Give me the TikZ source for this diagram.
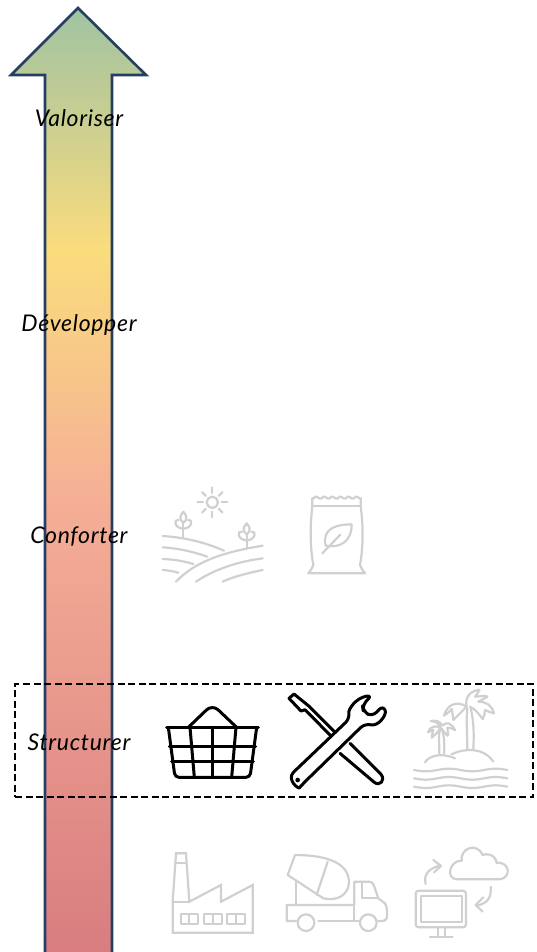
\documentclass[tikz,border=0pt]{standalone}
\usepackage{fontspec}
\setmainfont{Lato}[LetterSpace=3]
\usetikzlibrary{positioning}
\definecolor{arrowblue}{RGB}{38,62,100}
\definecolor{arrowgreen}{RGB}{160,195,162}
\definecolor{arrowyellow}{RGB}{250,220,125}
\definecolor{arrowsalmon}{RGB}{245,175,150}
\definecolor{arrowred}{RGB}{216,124,128}
\definecolor{icongrey}{RGB}{208,208,208}
\pgfdeclareverticalshading{arrowfade}{100bp}{color(0bp)=(arrowred); color(25bp)=(arrowred); color(49.2bp)=(arrowsalmon); color(62.3bp)=(arrowyellow); color(75bp)=(arrowgreen); color(100bp)=(arrowgreen)}
\tikzset{
    levellabel/.style={font=\fontsize{23}{26}\selectfont\itshape, text=black, inner sep=0pt},
    levelbox/.style={rectangle, draw=black, line width=2.3pt, dash pattern=on 7pt off 3.5pt, minimum width=518pt, minimum height=113pt},
    icon/.style={line width=2.2pt, line join=round, line cap=round, draw=icongrey},
    iconon/.style={line width=3pt, line join=round, line cap=round, draw=black},
}

\begin{document}
\begin{tikzpicture}[x=1pt, y=-1pt]

\useasboundingbox (0,0) rectangle (536,952);

\draw[shade, shading=arrowfade, draw=arrowblue, line width=2.6pt, line join=miter]
    (78,8) -- (146,75) -- (112,75) -- (112,960) -- (45,960) -- (45,75) -- (11,75) -- cycle;

\node[levellabel] (valoriser) at (79,118) {Valoriser};
\node[levellabel] (developper) at (79,325) {Développer};
\node[levellabel] (conforter) at (79,537) {Conforter};
\node[levellabel] (structurer) at (79,742) {Structurer};

\node[levelbox] (structurer-box) at (274,740.5) {};

% field
\begin{scope}[shift={(150,480)}, scale=1/3, icon]
\draw (187,67) circle (17);
\foreach \a in {0,90,180,270} {
    \draw (187,67) ++(\a:28) -- ++(\a:17);
}
\foreach \a in {45,135,225,315} {
    \draw (187,67) ++(\a:28) -- ++(\a:15);
}
\draw (38,168) .. controls (100,172) and (160,185) .. (222,212);
\draw (38,202) .. controls (85,205) and (130,215) .. (172,230);
\draw (38,237) .. controls (70,238) and (100,243) .. (130,252);
\draw (38,270) .. controls (55,271) and (70,274) .. (85,278);
\draw (78,305) .. controls (140,240) and (230,215) .. (338,197);
\draw (138,305) .. controls (190,270) and (260,245) .. (338,235);
\draw (218,305) .. controls (250,290) and (290,280) .. (338,270);
\draw (100,172) -- (100,125);
\draw (100,95) .. controls (88,108) and (88,120) .. (100,128) .. controls (112,120) and (112,108) .. (100,95);
\draw (86,120) .. controls (70,115) and (72,145) .. (100,146) .. controls (128,145) and (130,115) .. (114,120);
\draw (290,205) -- (290,160);
\draw (290,130) .. controls (278,143) and (278,155) .. (290,163) .. controls (302,155) and (302,143) .. (290,130);
\draw (276,155) .. controls (260,150) and (262,180) .. (290,181) .. controls (318,180) and (320,150) .. (304,155);
\end{scope}

% bag
\begin{scope}[shift={(150,480)}, scale=1/3, icon]
\draw (487,55) -- (487,78) .. controls (480,140) and (480,200) .. (490,255) .. controls (488,265) and (480,272) .. (475,280)
    -- (645,280) .. controls (640,272) and (632,265) .. (630,255) .. controls (640,200) and (640,140) .. (632,78) -- (632,55);
\draw plot[domain=487:632, samples=60] (\x, {53+3*cos((\x-487)*14.9)});
\draw (487,78) -- (632,78);
\draw (605,133) .. controls (560,133) and (515,145) .. (527,197) .. controls (570,205) and (605,185) .. (605,133);
\draw (517,220) -- (570,165);
\end{scope}

% basket
\begin{scope}[shift={(150,670)}, scale=1/3, iconon]
\draw (50,172) -- (325,172);
\draw[rounded corners=4pt] (55,172) -- (75,322) -- (300,322) -- (320,172);
\draw (58,228) -- (317,228);
\draw (65,275) -- (310,275);
\draw (120,172) -- (133,322);
\draw (188,172) -- (188,322);
\draw (258,172) -- (245,322);
\draw[rounded corners=8pt] (115,172) -- (187,103) -- (260,172);
\end{scope}

% tools
\begin{scope}[shift={(285,685)}, scale=1/3, iconon]
\draw (148,140) -- (70,62) -- (27,27) -- (12,40) -- (48,78) -- (60,74) -- (135,150);
\draw (195,175) -- (288,268) .. controls (302,285) and (285,305) .. (268,292) -- (165,205);
\draw[rounded corners=6pt] (25,262) -- (195,100) .. controls (190,75) and (210,40) .. (262,30) -- (232,60) -- (235,80) -- (262,95) -- (295,60) .. controls (305,90) and (280,125) .. (240,115) -- (55,295) .. controls (40,312) and (5,285) .. (25,262);
\fill[black] (38,285) circle (7);
\end{scope}

% island
\begin{scope}[shift={(410,685)}, scale=1/3, icon]
\draw (172,70) .. controls (168,110) and (172,150) .. (172,192);
\draw (182,70) .. controls (192,110) and (192,150) .. (190,192);
\draw (170,65) .. controls (140,45) and (110,60) .. (102,92) .. controls (112,85) and (120,80) .. (125,72) .. controls (128,85) and (128,95) .. (130,105) .. controls (145,90) and (160,75) .. (170,65);
\draw (170,65) .. controls (165,40) and (175,20) .. (208,14) .. controls (205,22) and (200,30) .. (195,35) .. controls (210,35) and (225,30) .. (232,35) .. controls (222,42) and (212,45) .. (205,50);
\draw (205,50) .. controls (228,50) and (245,60) .. (252,85) .. controls (240,82) and (232,78) .. (225,75) .. controls (225,85) and (222,95) .. (218,102) .. controls (205,85) and (195,72) .. (180,65);
\draw (90,132) .. controls (85,150) and (88,175) .. (88,205);
\draw (96,132) .. controls (103,155) and (104,180) .. (102,205);
\draw (92,128) .. controls (75,118) and (58,128) .. (54,142) .. controls (60,140) and (65,135) .. (70,135) .. controls (68,145) and (65,150) .. (65,158) .. controls (75,150) and (85,140) .. (92,128);
\draw (92,128) .. controls (85,115) and (80,110) .. (62,108) .. controls (75,105) and (90,108) .. (98,122) .. controls (110,108) and (125,115) .. (135,135) .. controls (125,130) and (118,128) .. (112,128) .. controls (112,140) and (118,148) .. (112,152) .. controls (105,145) and (100,138) .. (94,130);
\draw (45,232) .. controls (55,215) and (90,200) .. (135,220);
\draw (125,208) .. controls (160,190) and (220,185) .. (250,230);
\foreach \y in {255,280,305} {
    \draw plot[domain=12:292, samples=60] (\x, {\y+4*sin((\x-12)*2.57)});
}
\end{scope}

% factory
\begin{scope}[shift={(160,840)}, scale=1/3, icon]
\draw[line cap=butt, line join=miter] (38,278) -- (278,278) -- (278,135) -- (183,185) -- (183,135) -- (88,185) -- (78,40) -- (48,40) -- (38,185) -- cycle;
\draw (48,68) -- (78,68);
\draw (38,185) -- (88,185);
\foreach \x in {62,132,202} {
    \draw (\x,222) rectangle (\x+53,252);
    \draw (\x+26,222) -- (\x+26,252);
}
\end{scope}

% mixer
\begin{scope}[shift={(160,840)}, scale=1/3, icon]
\draw (405,45) .. controls (480,45) and (565,60) .. (567,125) .. controls (567,165) and (530,185) .. (490,175) -- (383,105) -- cycle;
\draw (503,65) -- (470,165);
\draw (408,125) -- (408,195);
\draw (408,243) -- (380,243) -- (380,195) -- (583,195) -- (583,125) -- (625,125) .. controls (635,125) and (640,130) .. (643,140) -- (655,175) -- (675,190) .. controls (682,197) and (682,230) .. (680,235) .. controls (678,242) and (672,243) .. (665,243) -- (655,243);
\draw (605,125) -- (605,175) -- (655,175);
\draw (475,243) -- (598,243);
\draw (583,195) -- (583,243);
\draw (438,248) circle (25);
\draw (625,248) circle (25);
\end{scope}

% computer
\begin{scope}[shift={(160,840)}, scale=1/3, icon]
\draw[rounded corners=3pt] (767,152) rectangle (918,262);
\draw (782,167) rectangle (905,245);
\draw (833,262) -- (833,290);
\draw (855,262) -- (855,290);
\draw (810,290) -- (878,290);
\draw (890,118) -- (1020,118) .. controls (1055,112) and (1050,65) .. (1010,68) .. controls (1005,40) and (975,40) .. (968,45) .. controls (950,5) and (900,25) .. (905,62) .. controls (870,60) and (855,115) .. (890,118);
\draw (797,132) .. controls (790,105) and (805,85) .. (840,77);
\draw (820,60) -- (843,78) -- (822,97);
\draw (992,140) .. controls (995,170) and (985,190) .. (950,197);
\draw (970,172) -- (947,195) -- (968,215);
\end{scope}

\end{tikzpicture}
\end{document}
